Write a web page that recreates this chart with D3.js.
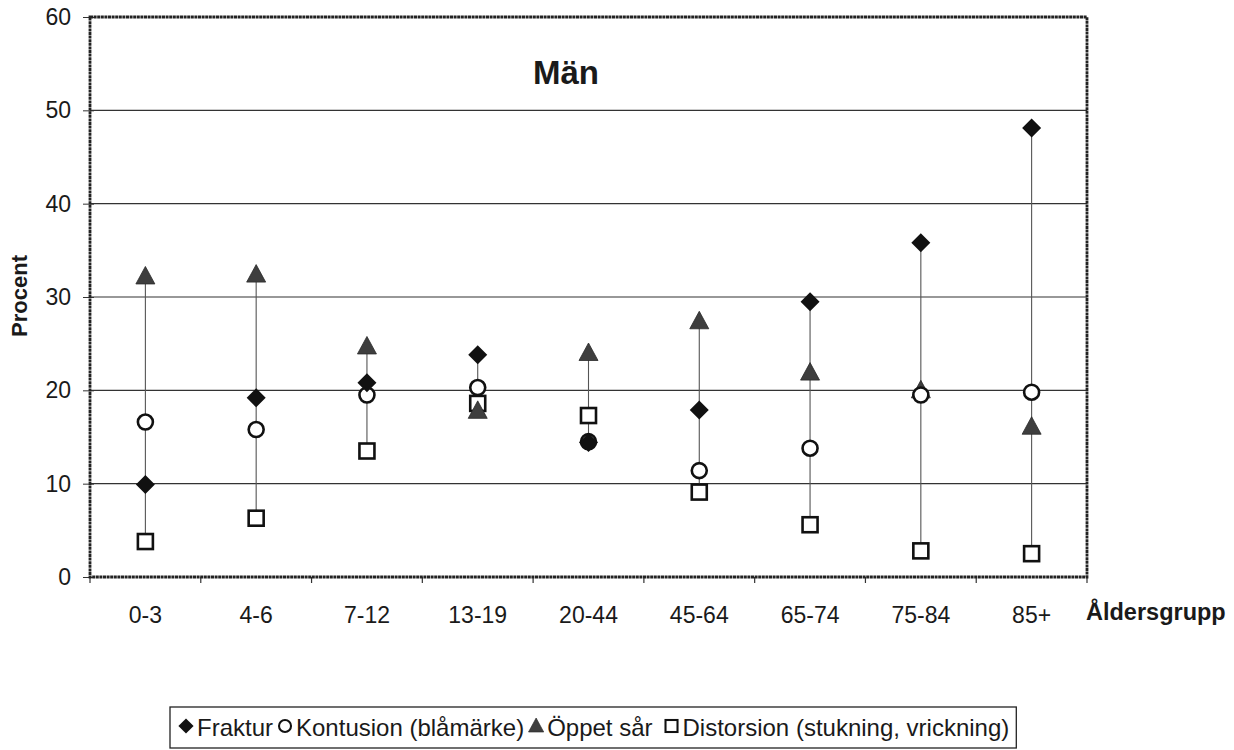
<!DOCTYPE html>
<html>
<head>
<meta charset="UTF-8">
<script src="https://d3js.org/d3.v7.min.js"></script>
<style>
  body { margin: 0; background: #fff; }
  text { font-family: "Liberation Sans", Arial, sans-serif; fill: #1a1a1a; }
</style>
</head>
<body>
<svg id="chart" width="1234" height="750"></svg>
<script>
// åldersgrupper och andel (%) per skadetyp
var groups = ["0-3", "4-6", "7-12", "13-19", "20-44", "45-64", "65-74", "75-84", "85+"];
var fraktur    = [9.9, 19.2, 20.8, 23.8, 14.4, 17.9, 29.5, 35.8, 48.1];
var kontusion  = [16.6, 15.8, 19.5, 20.3, 14.5, 11.4, 13.8, 19.5, 19.8];
var oppetSar   = [32.2, 32.4, 24.7, 17.8, 24.0, 27.4, 21.9, 20.0, 16.1];
var distorsion = [3.8, 6.3, 13.5, 18.6, 17.3, 9.1, 5.6, 2.8, 2.5];
var yTicks = [0, 10, 20, 30, 40, 50, 60];

var series = [
  { name: "Fraktur", values: fraktur, shape: "diamond" },
  { name: "Kontusion (blåmärke)", values: kontusion, shape: "circle" },
  { name: "Öppet sår", values: oppetSar, shape: "triangle" },
  { name: "Distorsion (stukning, vrickning)", values: distorsion, shape: "square" }
];

var marge = { top: 17, left: 90, right: 147, bottom: 173 };
var svg = d3.select("#chart");
var width = +svg.attr("width") - marge.left - marge.right;
var height = +svg.attr("height") - marge.top - marge.bottom;
var g = svg.append("g").attr("transform", "translate(" + marge.left + "," + marge.top + ")");

var x = d3.scaleBand().domain(groups).range([0, width]);
var y = d3.scaleLinear().domain([0, 60]).range([height, 0]);

// rutnät
g.selectAll(".grid").data(yTicks.filter(function(d){ return d > 0 && d < 60; }))
  .enter().append("line")
  .attr("x1", 0).attr("x2", width)
  .attr("y1", function(d){ return y(d); }).attr("y2", function(d){ return y(d); })
  .attr("stroke", "#333").attr("stroke-width", 1.2);

// y-axel
var yAxis = d3.axisLeft(y).tickValues(yTicks).tickSize(6).tickPadding(13);
var ya = g.append("g").call(yAxis);
ya.select(".domain").remove();
ya.selectAll(".tick line").attr("x2", -7).attr("x1", 4).attr("stroke", "#333");
ya.selectAll("text").style("font-size", "23px").attr("fill", "#1a1a1a");

// x-axel
var xa = g.append("g").attr("transform", "translate(0," + height + ")")
  .call(d3.axisBottom(x).tickSize(0).tickPadding(30));
xa.select(".domain").remove();
xa.selectAll("text").style("font-size", "23px").attr("fill", "#1a1a1a");
g.selectAll(".xtick").data(d3.range(groups.length + 1)).enter().append("line")
  .attr("x1", function(i){ return i * x.step(); }).attr("x2", function(i){ return i * x.step(); })
  .attr("y1", height).attr("y2", height + 6)
  .attr("stroke", "#333").attr("stroke-width", 1.2);

// ram
g.append("rect").attr("x", 0).attr("y", 0).attr("width", width).attr("height", height)
  .attr("fill", "none").attr("stroke", "#222").attr("stroke-width", 2.8)
  .attr("stroke-dasharray", "3,0.6");

// högt-lågt-linjer
g.selectAll(".hilo").data(groups).enter().append("line")
  .attr("x1", function(d){ return x(d) + x.bandwidth() / 2; })
  .attr("x2", function(d){ return x(d) + x.bandwidth() / 2; })
  .attr("y1", function(d, i){ return y(d3.max(series, function(s){ return s.values[i]; })); })
  .attr("y2", function(d, i){ return y(d3.min(series, function(s){ return s.values[i]; })); })
  .attr("stroke", "#555").attr("stroke-width", 1.1);

function drawMarker(sel, shape) {
  if (shape === "diamond") {
    sel.append("path").attr("d", "M0,-9.5L9.5,0L0,9.5L-9.5,0Z").attr("fill", "#111");
  } else if (shape === "circle") {
    sel.append("circle").attr("r", 7.5).attr("fill", "#fff").attr("stroke", "#111").attr("stroke-width", 2.6);
  } else if (shape === "triangle") {
    sel.append("path").attr("d", "M0,-10L9.5,7.5L-9.5,7.5Z").attr("fill", "#3e3e3e").attr("stroke", "#2a2a2a").attr("stroke-width", 0.8);
  } else {
    sel.append("rect").attr("x", -7.5).attr("y", -7.5).attr("width", 15).attr("height", 15)
      .attr("fill", "#fff").attr("stroke", "#111").attr("stroke-width", 2.6);
  }
}

// markörer, rita distorsion först så att fraktur hamnar överst
[3, 2, 1, 0].forEach(function(k){
  var s = series[k];
  g.selectAll(".m" + k).data(s.values).enter().append("g")
    .attr("transform", function(d, i){ return "translate(" + (x(groups[i]) + x.bandwidth() / 2) + "," + y(d) + ")"; })
    .each(function(){ drawMarker(d3.select(this), s.shape); });
});

// titlar
svg.append("text").attr("x", 566).attr("y", 84).attr("text-anchor", "middle")
  .style("font-size", "33px").style("font-weight", "bold").text("Män");
svg.append("text").attr("transform", "translate(27,296) rotate(-90)").attr("text-anchor", "middle")
  .style("font-size", "22px").style("font-weight", "bold").text("Procent");
svg.append("text").attr("x", 1086).attr("y", 620)
  .style("font-size", "23.5px").style("font-weight", "bold").text("Åldersgrupp");

// teckenförklaring
var lg = svg.append("g");
var box = lg.append("rect").attr("x", 170).attr("y", 707).attr("width", 843).attr("height", 41)
  .attr("fill", "#fff").attr("stroke", "#222").attr("stroke-width", 1.3);
var lx = 177;
series.forEach(function(s, i){
  var m = lg.append("g").attr("transform", "translate(" + (lx + 9) + ",726) scale(0.8)");
  drawMarker(m, s.shape);
  var t = lg.append("text").attr("x", lx + 20).attr("y", 736).style("font-size", "24px").text(s.name);
  lx += 20 + t.node().getComputedTextLength() + (i === 2 ? 10 : 3);
});
box.attr("width", lx - 170 + 4);
</script>
</body>
</html>
